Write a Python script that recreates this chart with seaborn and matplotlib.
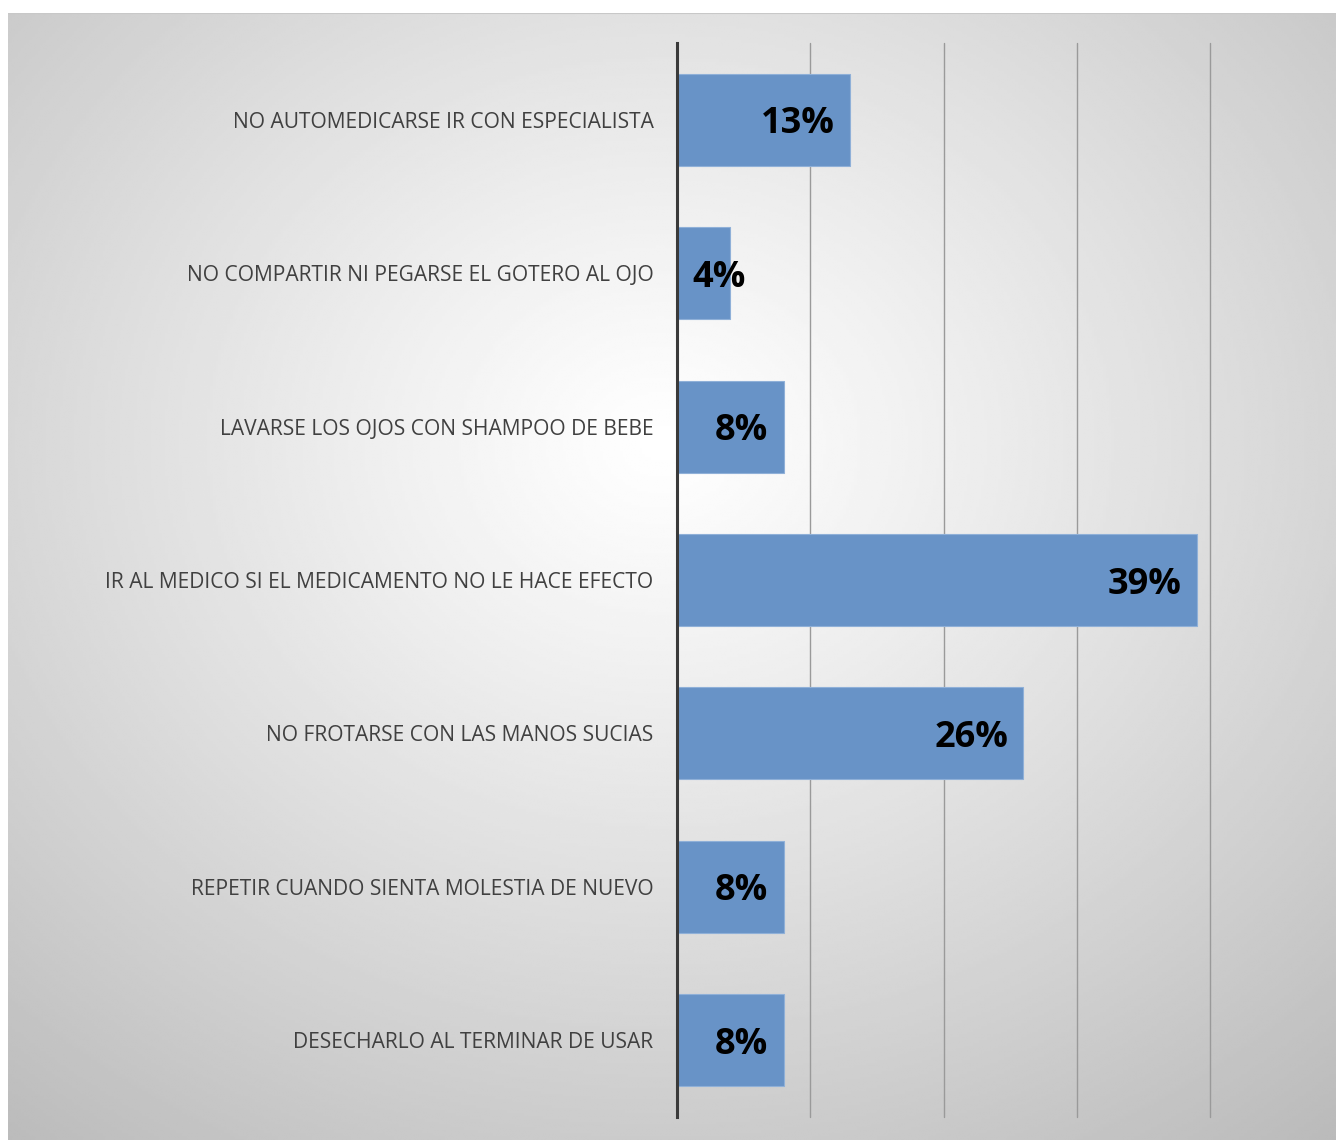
import numpy as np
import pandas as pd
import matplotlib
matplotlib.use("Agg")
import matplotlib.pyplot as plt
import seaborn as sns

categories = [
    "NO AUTOMEDICARSE IR CON ESPECIALISTA",
    "NO COMPARTIR NI PEGARSE EL GOTERO AL OJO",
    "LAVARSE LOS OJOS CON SHAMPOO DE BEBE",
    "IR AL MEDICO SI EL MEDICAMENTO NO LE HACE EFECTO",
    "NO FROTARSE CON LAS MANOS SUCIAS",
    "REPETIR CUANDO SIENTA MOLESTIA DE NUEVO",
    "DESECHARLO AL TERMINAR DE USAR",
]
values = [13, 4, 8, 39, 26, 8, 8]
value_labels = ["13%", "4%", "8%", "39%", "26%", "8%", "8%"]

df = pd.DataFrame({"categoria": categories, "porcentaje": values})

sns.set_theme(style="white")
plt.rcParams["font.family"] = ["Open Sans", "DejaVu Sans"]

W, H = 1336, 1140
fig = plt.figure(figsize=(W / 100, H / 100), dpi=100)
fig.patch.set_facecolor("white")

# radial gradient backdrop of the chart area
bg = fig.add_axes([8 / W, 0, 1 - 8 / W, (H - 13) / H], zorder=0)
ny, nx = 400, 470
yy, xx = np.mgrid[0:ny, 0:nx]
cx, cy = nx * 0.49, ny * 0.38
r = np.sqrt(((xx - cx) / nx) ** 2 + ((yy - cy) / ny) ** 2)
r = r / r.max()
shade = 1.0 - 0.27 * np.clip(r, 0, 1) ** 1.1
bg.imshow(shade, cmap="gray", vmin=0, vmax=1, aspect="auto",
          extent=[0, 1, 0, 1], origin="upper", interpolation="bilinear")
bg.set_xlim(0, 1)
bg.set_ylim(0, 1)
bg.axhline(1, color="#c8c8c8", lw=1.5)
bg.axis("off")

ax = fig.add_axes([677 / W, (H - 1117) / H, 533 / W, 1074 / H], zorder=1)
ax.patch.set_alpha(0)
sns.barplot(data=df, x="porcentaje", y="categoria", orient="h",
            color="#6893C7", saturation=1, width=0.6,
            edgecolor="#8FB0D8", linewidth=0.8, ax=ax, zorder=3)
ax.set_xlim(0, 40)
ax.set_ylim(6.5, -0.5)
ax.set_xlabel("")
ax.set_ylabel("")

for gx in [10, 20, 30, 40]:
    ax.axvline(gx, color="#9a9a9a", lw=1.0, zorder=1, clip_on=False)

for s in ["top", "right", "bottom"]:
    ax.spines[s].set_visible(False)
ax.spines["left"].set_color("#3a3a3a")
ax.spines["left"].set_linewidth(2.2)
ax.spines["left"].set_zorder(5)

ax.set_xticks([])
ax.tick_params(axis="y", length=0, pad=17, labelsize=15.1, labelcolor="#404040")

pad = 1.15
for i, (v, lab) in enumerate(zip(values, value_labels)):
    if v > 6:
        ax.text(v - pad, i + 0.03, lab, ha="right", va="center", fontsize=26,
                fontweight="bold", color="black", zorder=6)
    else:
        ax.text(pad, i + 0.03, lab, ha="left", va="center", fontsize=26,
                fontweight="bold", color="black", zorder=6)

fig.savefig("out.png", dpi=100)
